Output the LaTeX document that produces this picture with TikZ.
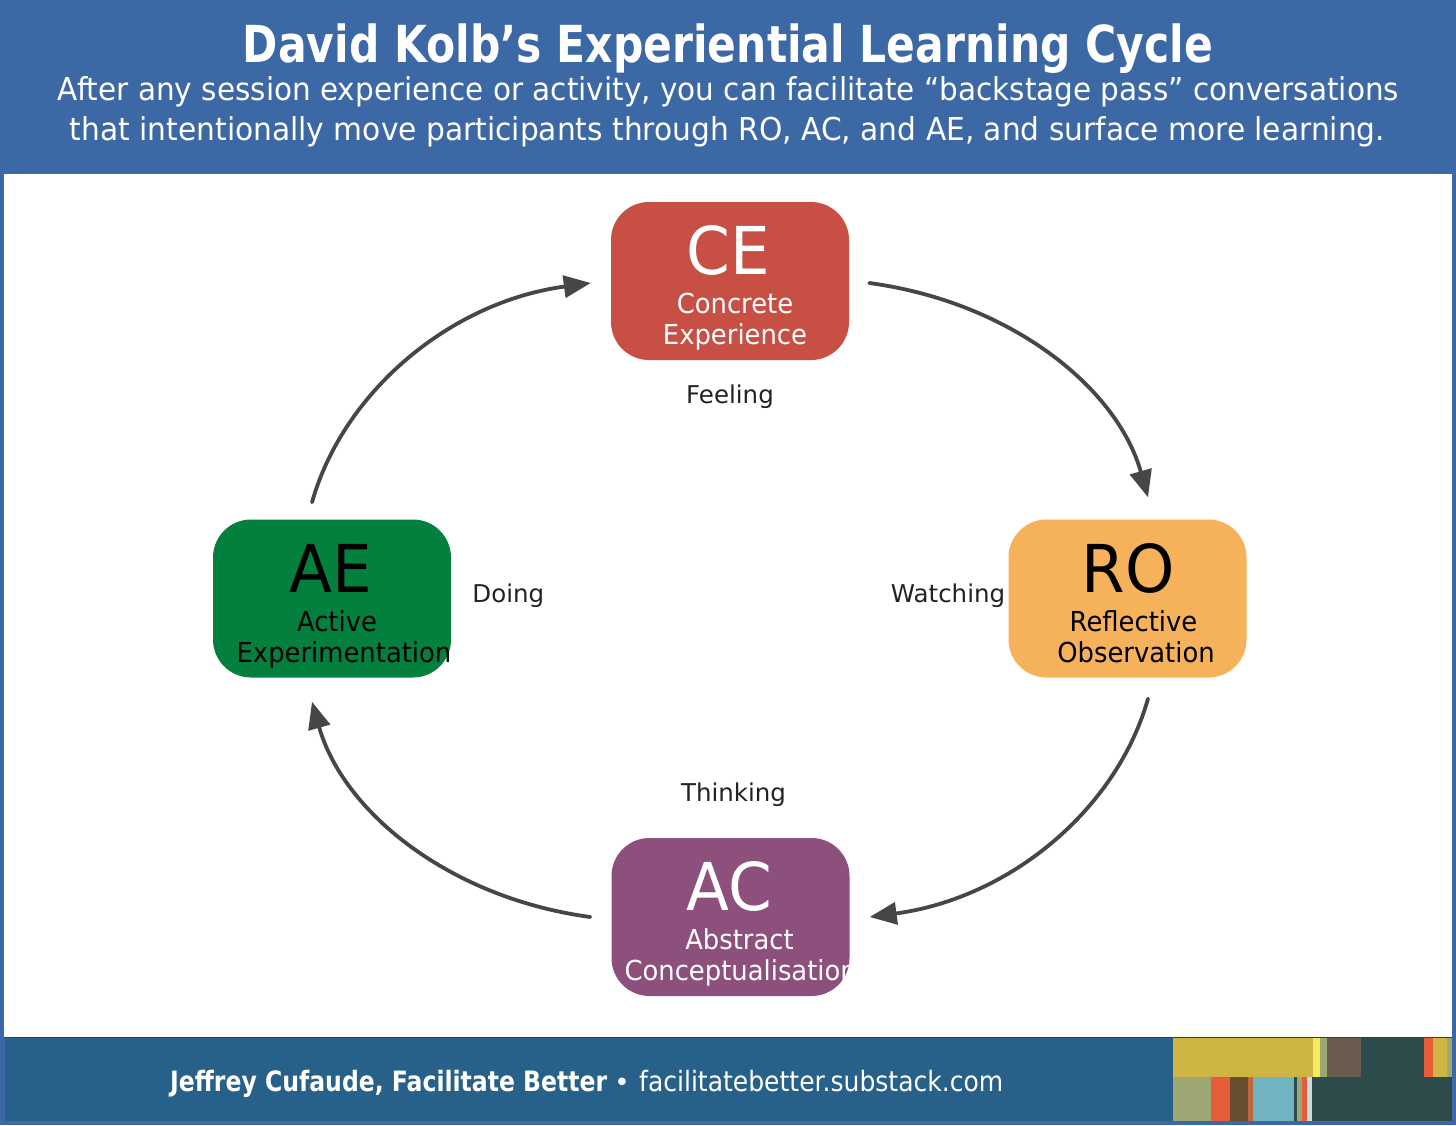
\documentclass[tikz,border=0pt]{standalone}
\usepackage{fontspec}
\usepackage{graphicx}
\setmainfont{DejaVu Sans}
\newfontfamily\nodefont{DejaVu Sans}[FakeStretch=0.94]
\newfontfamily\bigfont{DejaVu Sans}[FakeStretch=0.95]
\usetikzlibrary{arrows.meta,calc}
\definecolor{hdblue}{HTML}{3C68A5}
\definecolor{ftblue}{HTML}{276189}
\definecolor{ceRed}{HTML}{C84F44}
\definecolor{roOrange}{HTML}{F5B25A}
\definecolor{aeGreen}{HTML}{037F3E}
\definecolor{acPurple}{HTML}{8D4F7C}
\definecolor{arrgray}{HTML}{464646}
\definecolor{lblgray}{HTML}{222222}
\definecolor{bGold}{HTML}{CFB544}
\definecolor{bYellow}{HTML}{F6E95A}
\definecolor{bSage}{HTML}{9CA773}
\definecolor{bBrownGray}{HTML}{6C5B4F}
\definecolor{bTeal}{HTML}{2D4B4A}
\definecolor{bRed}{HTML}{E65C3B}
\definecolor{bBrown}{HTML}{654F2E}
\definecolor{bRust}{HTML}{C0683A}
\definecolor{bSky}{HTML}{72B5C2}
\definecolor{bPale}{HTML}{C8DDE0}
\begin{document}
\begin{tikzpicture}[x=1pt,y=-1pt,
  stagebox/.style={draw=none, rounded corners=38pt, minimum width=238pt, minimum height=158pt, inner sep=0pt},
  bigtxt/.style={inner sep=0pt, anchor=base, font=\bigfont\fontsize{66}{70}\selectfont},
  subtxt/.style={inner sep=0pt, anchor=base, font=\nodefont\fontsize{27.5}{31}\selectfont},
  lbl/.style={inner sep=0pt, text=lblgray, font=\fontsize{24.5}{28}\selectfont},
  hdtxt/.style={inner sep=0pt, anchor=base, text=white},
  arr/.style={draw=arrgray, line width=3.8pt, line cap=round, -{Triangle[length=27pt,width=22pt]}}
]
\useasboundingbox (0,0) rectangle (1456,1125);
% background
\fill[hdblue] (0,0) rectangle (1456,1125);
\fill[white] (4,174) rectangle (1452,1037);
\fill[ftblue] (5,1038) rectangle (1452,1121);
\draw[ftblue!70!black, line width=1.2pt] (4,1037.5) -- (1452,1037.5);
% colour blocks
\fill[bGold] (1173,1038) rectangle (1313,1077);
\fill[bYellow] (1313,1038) rectangle (1320,1077);
\fill[bSage] (1320,1038) rectangle (1327,1077);
\fill[bBrownGray] (1327,1038) rectangle (1361,1077);
\fill[bTeal] (1361,1038) rectangle (1424,1077);
\fill[bRed] (1424,1038) rectangle (1433,1077);
\fill[bGold] (1433,1038) rectangle (1447,1077);
\fill[bSage] (1447,1038) rectangle (1452,1077);
\fill[bSage] (1173,1077) rectangle (1211,1121);
\fill[bRed] (1211,1077) rectangle (1230,1121);
\fill[bBrown] (1230,1077) rectangle (1248,1121);
\fill[bRust] (1248,1077) rectangle (1253,1121);
\fill[bSky] (1253,1077) rectangle (1294,1121);
\fill[bTeal] (1294,1077) rectangle (1297,1121);
\fill[bSage] (1297,1077) rectangle (1302,1121);
\fill[bRed] (1302,1077) rectangle (1307,1121);
\fill[bPale] (1307,1077) rectangle (1312,1121);
\fill[bTeal] (1312,1077) rectangle (1452,1121);
% header
\node[hdtxt] (title) at (728,62) {\resizebox{970pt}{\height}{\fontsize{51}{60}\selectfont\bfseries David Kolb’s Experiential Learning Cycle}};
\node[hdtxt] (sub1) at (728.5,100) {\resizebox{1341pt}{\height}{\fontsize{31.5}{36}\selectfont After any session experience or activity, you can facilitate “backstage pass” conversations}};
\node[hdtxt] (sub2) at (727.5,140) {\resizebox{1315pt}{\height}{\fontsize{31.5}{36}\selectfont that intentionally move participants through RO, AC, and AE, and surface more learning.}};
% footer
\node[hdtxt, anchor=base west] (ft1) at (170,1091) {\resizebox{437pt}{\height}{\fontsize{28}{32}\selectfont\bfseries Jeffrey Cufaude, Facilitate Better}};
\node[hdtxt] (ftdot) at (622,1091) {\fontsize{26}{30}\selectfont •};
\node[hdtxt, anchor=base west] (ft2) at (639,1091) {\resizebox{364pt}{\height}{\fontsize{28}{32}\selectfont facilitatebetter.substack.com}};
% stage boxes
\node[stagebox, fill=ceRed] (CE) at (730,281) {};
\node[stagebox, fill=roOrange] (RO) at (1127.5,598.5) {};
\node[stagebox, fill=aeGreen] (AE) at (332,598.5) {};
\node[stagebox, fill=acPurple] (AC) at (730.5,917) {};
% texts in boxes
\node[bigtxt, text=white] (ceT) at ($(CE.north)+(-2,73)$) {CE};
\node[subtxt, text=white] (ceS1) at ($(CE.north)+(5,112)$) {Concrete};
\node[subtxt, text=white] (ceS2) at ($(CE.north)+(5,143)$) {Experience};
\node[bigtxt, text=black] (roT) at ($(RO.north)+(0.5,73)$) {RO};
\node[subtxt, text=black] (roS1) at ($(RO.north)+(6,112)$) {Reflective};
\node[subtxt, text=black] (roS2) at ($(RO.north)+(8.5,143)$) {Observation};
\node[bigtxt, text=black] (aeT) at ($(AE.north)+(-1,73)$) {AE};
\node[subtxt, text=black] (aeS1) at ($(AE.north)+(5,112)$) {Active};
\node[subtxt, text=black] (aeS2) at ($(AE.north)+(12,143)$) {Experimentation};
\node[bigtxt, text=white] (acT) at ($(AC.north)+(-1.5,73)$) {AC};
\node[subtxt, text=white] (acS1) at ($(AC.north)+(9,112)$) {Abstract};
\begin{scope}
\clip (AC.north west) rectangle (AC.south east);
\node[subtxt, text=white, anchor=base west] (acS2) at ($(AC.north west)+(13,143)$) {Conceptualisation};
\end{scope}
% labels
\node[lbl, anchor=base] (feel) at ($(CE.south)+(0,43)$) {Feeling};
\node[lbl, anchor=base east] (watch) at ($(RO.west)+(-3,3.5)$) {Watching};
\node[lbl, anchor=base west] (doing) at ($(AE.east)+(21,3.5)$) {Doing};
\node[lbl, anchor=base] (think) at ($(AC.north)+(3,-36)$) {Thinking};
% arrows
\coordinate (a1s) at ($(CE.east)+(20,2)$);
\coordinate (a1e) at ($(RO.north)+(20.5,-22)$);
\coordinate (a2s) at ($(RO.south)+(20.5,21)$);
\coordinate (a2e) at ($(AC.east)+(20,0)$);
\coordinate (a3s) at ($(AC.west)+(-21,0)$);
\coordinate (a3e) at ($(AE.south)+(-20,24)$);
\coordinate (a4s) at ($(AE.north)+(-20,-17)$);
\coordinate (a4e) at ($(CE.west)+(-20,2)$);
\draw[arr] (a1s) .. controls +(141,19) and +(-31,-110) .. (a1e);
\draw[arr] (a2s) .. controls +(-31,110) and +(141,-19) .. (a2e);
\draw[arr] (a3s) .. controls +(-141,-19) and +(31,110) .. (a3e);
\draw[arr] (a4s) .. controls +(31,-110) and +(-141,19) .. (a4e);
\end{tikzpicture}
\end{document}
